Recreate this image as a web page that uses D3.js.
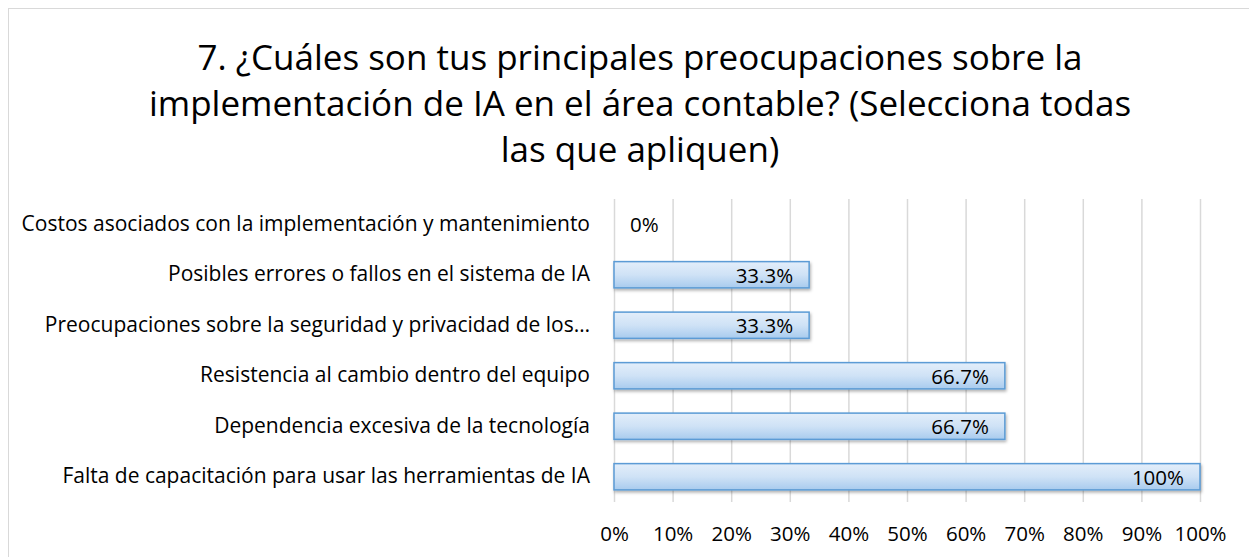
<!DOCTYPE html>
<html>
<head>
<meta charset="utf-8">
<script src="https://cdn.jsdelivr.net/npm/d3@7"></script>
<style>
  body { margin: 0; background: #fff; }
  text { font-family: "Open Sans", sans-serif; fill: #000; }
</style>
</head>
<body>
<div id="chart"></div>
<script>
/* Horizontal bar chart: concerns about AI in accounting */

const categories = [
    "Costos asociados con la implementación y mantenimiento",
    "Posibles errores o fallos en el sistema de IA",
    "Preocupaciones sobre la seguridad y privacidad de los…",
    "Resistencia al cambio dentro del equipo",
    "Dependencia excesiva de la tecnología",
    "Falta de capacitación para usar las herramientas de IA"
];
const values = [0, 33.3, 33.3, 66.7, 66.7, 100];
const labels = ["0%", "33.3%", "33.3%", "66.7%", "66.7%", "100%"];
const ticks = [0, 10, 20, 30, 40, 50, 60, 70, 80, 90, 100];
const titleLines = [
    "7. ¿Cuáles son tus principales preocupaciones sobre la",
    "implementación de IA en el área contable? (Selecciona todas",
    "las que apliquen)"
];

let rows = categories.map((c, i) => ({ cat: c, value: values[i], label: labels[i] }));

const width = 1249,
      height = 557,
      margin = ({ top: 199, right: 49, bottom: 55, left: 614 });

let svg = d3.select("#chart")
    .append("svg")
    .attr("width", width)
    .attr("height", height);

// chart frame
svg.append("rect")
    .attr("x", 8.5).attr("y", 8.5)
    .attr("width", width + 10).attr("height", height + 10)
    .attr("fill", "none")
    .attr("stroke", "#d9d9d9");

let defs = svg.append("defs");
let grad = defs.append("linearGradient")
    .attr("id", "barFill")
    .attr("x1", 0).attr("y1", 0).attr("x2", 0).attr("y2", 1);
grad.append("stop").attr("offset", "0%").attr("stop-color", "#e3eefa");
grad.append("stop").attr("offset", "50%").attr("stop-color", "#cfe2f6");
grad.append("stop").attr("offset", "100%").attr("stop-color", "#a8cbee");

let shadow = defs.append("filter").attr("id", "shadow")
    .attr("x", "-5%").attr("y", "-20%").attr("width", "110%").attr("height", "160%");
shadow.append("feDropShadow")
    .attr("dx", 1).attr("dy", 2).attr("stdDeviation", 1.5)
    .attr("flood-color", "#000").attr("flood-opacity", 0.3);

svg.selectAll(".title")
    .data(titleLines)
    .join("text")
    .attr("class", "title")
    .attr("x", 640)
    .attr("y", (d, i) => 70 + i * 46)
    .attr("text-anchor", "middle")
    .style("font-size", "35px")
    .text(d => d);

let x = d3.scaleLinear()
    .domain([0, 100])
    .range([margin.left, width - margin.right]);

let y = d3.scaleBand()
    .domain(categories)
    .range([margin.top, height - margin.bottom])
    .paddingInner(0.48)
    .paddingOuter(0.24);

// gridlines
svg.append("g")
    .selectAll("line")
    .data(ticks)
    .join("line")
    .attr("x1", d => x(d) + 0.5).attr("x2", d => x(d) + 0.5)
    .attr("y1", margin.top).attr("y2", height - margin.bottom)
    .attr("stroke", "#d9d9d9")
    .attr("stroke-width", 1.5);

let xAxis = svg.append("g")
    .attr("transform", `translate(0,${height - margin.bottom})`)
    .call(d3.axisBottom(x).tickValues(ticks).tickFormat(d => d + "%").tickSize(0).tickPadding(24));
xAxis.select(".domain").remove();
xAxis.selectAll("text").style("font-size", "20.5px").style("font-family", "'Open Sans', sans-serif").attr("fill", "#000");

let yAxis = svg.append("g")
    .attr("transform", `translate(${margin.left},0)`)
    .call(d3.axisLeft(y).tickSize(0).tickPadding(24));
yAxis.select(".domain").remove();
yAxis.selectAll("text").style("font-size", "21px").style("font-family", "'Open Sans', sans-serif").attr("fill", "#000");

let bar = svg.selectAll(".bar")
    .data(rows)
    .join("g")
    .attr("class", "bar");

bar.filter(d => d.value > 0)
    .append("rect")
    .attr("x", x(0))
    .attr("y", d => y(d.cat))
    .attr("width", d => x(d.value) - x(0))
    .attr("height", y.bandwidth())
    .attr("fill", "url(#barFill)")
    .attr("stroke", "#5b9bd5")
    .attr("stroke-width", 1.5)
    .attr("filter", "url(#shadow)");

bar.append("text")
    .text(d => d.label)
    .attr("x", d => d.value > 0 ? x(d.value) - 16 : x(0) + 16)
    .attr("y", d => y(d.cat) + y.bandwidth() / 2)
    .attr("text-anchor", d => d.value > 0 ? "end" : "start")
    .attr("dominant-baseline", "central")
    .style("font-size", "20.5px");
</script>
</body>
</html>
